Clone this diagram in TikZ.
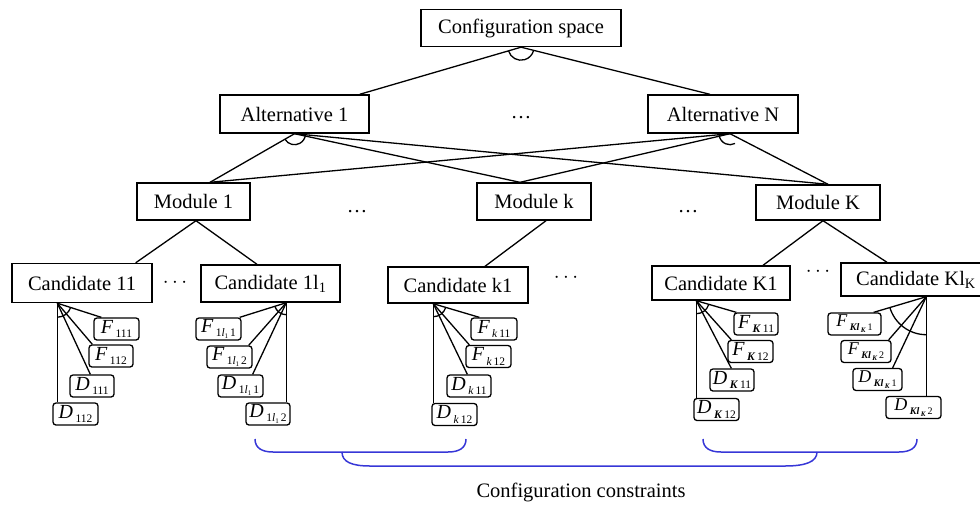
\documentclass[tikz,border=0pt]{standalone}
\usepackage{fontspec}
\setmainfont{Liberation Serif}
\usetikzlibrary{calc}
\definecolor{bblue}{RGB}{55,55,215}
\newcommand{\sblab}[2]{{\fontsize{20}{20}\selectfont\itshape #1}\hspace{2.5pt}\raisebox{-4.5pt}{\fontsize{11.5}{11.5}\selectfont #2}}
\newcommand{\sblabs}[2]{{\fontsize{18}{18}\selectfont\itshape #1}\hspace{2.5pt}\raisebox{-4pt}{\fontsize{10}{10}\selectfont #2}}
\newcommand{\tinysub}[1]{\raisebox{-2pt}{\fontsize{7}{7}\selectfont #1}}
\begin{document}
\begin{tikzpicture}[x=1pt,y=-1pt,
  box/.style={draw, line width=1.4pt, inner sep=0pt, font=\fontsize{20.5}{24}\selectfont, minimum height=37pt},
  sb/.style={draw, rounded corners=3pt, line width=1.3pt, inner sep=0pt, minimum height=22pt},
  ln/.style={line width=1.3pt},
  brk/.style={draw=bblue, line width=1.5pt},
  dts/.style={inner sep=0pt, font=\fontsize{20.5}{24}\selectfont}]
\useasboundingbox (0,0) rectangle (980,504);

% top levels
\node[box, minimum width=200pt] (cs) at (521,28) {Configuration space};
\node[box, minimum width=149pt, minimum height=38pt] (a1) at (294.5,114) {Alternative 1};
\node[box, minimum width=150pt, minimum height=38pt] (aN) at (723,114) {Alternative N};
\node[dts] (d0) at (521,118) {…};

\node[box, minimum width=113pt] (m1) at (193.5,201.5) {Module 1};
\node[box, minimum width=114pt] (mk) at (534,201.5) {Module k};
\node[box, minimum width=124pt, minimum height=35pt] (mK) at (818,202.5) {Module K};
\node[dts] (d1) at (357,212) {…};
\node[dts] (d2) at (688,212) {…};

% candidates
\node[box, minimum width=140pt, minimum height=39pt] (c11) at (82,283) {Candidate 11};
\node[box, minimum width=139pt] (c1l) at (270.5,283.5) {Candidate 1l\textsubscript{1}};
\node[box, minimum width=140pt, minimum height=36pt] (ck1) at (458,285) {Candidate k1};
\node[box, minimum width=138pt, minimum height=34pt] (cK1) at (721,283) {Candidate K1};
\node[box, minimum width=150pt, minimum height=33pt] (cKl) at (916,279.5) {Candidate Kl\textsubscript{K}};
\node[dts] (d3) at (175,283) {$\cdots$};
\node[dts] (d4) at (566,278) {$\cdots$};
\node[dts] (d5) at (818,272) {$\cdots$};

% upper connectors
\draw[ln] (cs.south) -- ([xshift=-10pt]a1.north east);
\draw[ln] (cs.south) -- ([xshift=-13pt]aN.north);
\draw[ln] ($(cs.south)+(-163.5:13pt)$) arc[start angle=-163.5, end angle=-14.2, radius=13pt];

\coordinate (a1p) at (a1.south);
\coordinate (aNp) at ([xshift=7pt]aN.south);
\coordinate (m1t) at ([xshift=16.5pt]m1.north);
\coordinate (mkt) at ([xshift=-14pt]mk.north);
\coordinate (mKt) at ([xshift=10pt]mK.north);
\draw[ln] (a1p) -- (m1t);
\draw[ln] (a1p) -- (mkt);
\draw[ln] (a1p) -- (mKt);
\draw[ln] (aNp) -- (m1t);
\draw[ln] (aNp) -- (mkt);
\draw[ln] (aNp) -- (mKt);
\draw[ln] ($(a1p)+(-150:11pt)$) arc[start angle=-150, end angle=-5, radius=11pt];
\draw[ln] ($(aNp)+(-174:11pt)$) arc[start angle=-174, end angle=-63, radius=11pt];

% module to candidate
\draw[ln] ([xshift=2.5pt]m1.south) -- ([xshift=-17pt]c11.north east);
\draw[ln] ([xshift=2.5pt]m1.south) -- ([xshift=-13.5pt]c1l.north);
\draw[ln] ([xshift=12pt]mk.south) -- ([xshift=27pt]ck1.north);
\draw[ln] ([xshift=5pt]mK.south) -- ([xshift=42pt]cK1.north);
\draw[ln] ([xshift=5pt]mK.south) -- ([xshift=-29pt]cKl.north);

% apexes
\coordinate (p11) at ([xshift=46pt]c11.south west);
\coordinate (p1l) at ([xshift=86pt]c1l.south west);
\coordinate (pk1) at ([xshift=46pt]ck1.south west);
\coordinate (pK1) at ([xshift=45pt]cK1.south west);
\coordinate (pKl) at ([xshift=86pt]cKl.south west);

% group c11
\node[sb, minimum width=45pt] (f111) at (116.5,329) {\sblab{F}{111}};
\node[sb, minimum width=44pt] (f112) at (111,356) {\sblab{F}{112}};
\node[sb, minimum width=44pt] (d111) at (92,386) {\sblab{D}{111}};
\node[sb, minimum width=45pt] (d112) at (75.5,414) {\sblab{D}{112}};
\draw[ln] (p11) -- ([xshift=8pt]f111.north west);
\draw[ln] (p11) -- ([xshift=4pt]f112.north west);
\draw[ln] (p11) -- ([xshift=21pt]d111.north west);
\draw[ln] (p11) -- (p11 |- d112.north);
\draw[ln] ($(p11)+(-90:14pt)$) arc[start angle=-90, end angle=-17.7, radius=14pt];

% group c1l
\node[sb, minimum width=45pt] (g1) at (218.5,329) {\sblab{F}{1\textit{l}\tinysub{1}\,1}};
\node[sb, minimum width=45pt] (g2) at (229.5,357) {\sblab{F}{1\textit{l}\tinysub{1}\,2}};
\node[sb, minimum width=45pt] (g3) at (240.5,386) {\sblab{D}{1\textit{l}\tinysub{1}\,1}};
\node[sb, minimum width=44pt] (g4) at (268,414) {\sblab{D}{1\textit{l}\tinysub{1}\,2}};
\draw[ln] (p1l) -- ([xshift=-2pt]g1.north east);
\draw[ln] (p1l) -- ([xshift=-4pt]g2.north east);
\draw[ln] (p1l) -- ([xshift=-11pt]g3.north east);
\draw[ln] (p1l) -- (p1l |- g4.north);
\draw[ln] ($(p1l)+(-163.4:12pt)$) arc[start angle=-163.4, end angle=-90, radius=12pt];

% group ck1
\node[sb, minimum width=46pt] (h1) at (494,329) {\sblab{F}{\textit{k}\,11}};
\node[sb, minimum width=45pt] (h2) at (488.5,356.5) {\sblab{F}{\textit{k}\,12}};
\node[sb, minimum width=44pt] (h3) at (469,386) {\sblab{D}{\textit{k}\,11}};
\node[sb, minimum width=45pt] (h4) at (454.5,414.5) {\sblab{D}{\textit{k}\,12}};
\draw[ln] (pk1) -- ([xshift=9pt]h1.north west);
\draw[ln] (pk1) -- ([xshift=4pt]h2.north west);
\draw[ln] (pk1) -- ([xshift=21pt]h3.north west);
\draw[ln] (pk1) -- (pk1 |- h4.north);
\draw[ln] ($(pk1)+(-90:13pt)$) arc[start angle=-90, end angle=-17, radius=13pt];

% group cK1
\node[sb, minimum width=44pt] (k1) at (756,324) {\sblab{F}{\textbf{\textit{K}}\,11}};
\node[sb, minimum width=45pt] (k2) at (750.5,351.5) {\sblab{F}{\textbf{\textit{K}}\,12}};
\node[sb, minimum width=44pt] (k3) at (732,380) {\sblab{D}{\textbf{\textit{K}}\,11}};
\node[sb, minimum width=45pt] (k4) at (716.5,409.5) {\sblab{D}{\textbf{\textit{K}}\,12}};
\draw[ln] (pK1) -- ([xshift=3pt]k1.north west);
\draw[ln] (pK1) -- ([xshift=4pt]k2.north west);
\draw[ln] (pK1) -- ([xshift=22pt]k3.north west);
\draw[ln] (pK1) -- (pK1 |- k4.north);
\draw[ln] ($(pK1)+(-90:13pt)$) arc[start angle=-90, end angle=-18, radius=13pt];

% group cKl
\node[sb, minimum width=53pt] (l1) at (854.5,324) {\sblabs{F}{\textbf{\textit{Kl}}\,\tinysub{\textbf{\textit{K}}}\,1}};
\node[sb, minimum width=50pt] (l2) at (866,351.5) {\sblabs{F}{\textbf{\textit{Kl}}\,\tinysub{\textbf{\textit{K}}}\,2}};
\node[sb, minimum width=49pt] (l3) at (877.5,379.5) {\sblabs{D}{\textbf{\textit{Kl}}\,\tinysub{\textbf{\textit{K}}}\,1}};
\node[sb, minimum width=55pt] (l4) at (913.5,407.5) {\sblabs{D}{\textbf{\textit{Kl}}\,\tinysub{\textbf{\textit{K}}}\,2}};
\draw[ln] (pKl) -- ([xshift=-8pt]l1.north east);
\draw[ln] (pKl) -- ([xshift=-3pt]l2.north east);
\draw[ln] (pKl) -- ([xshift=-10pt]l3.north east);
\draw[ln] (pKl) -- (pKl |- l4.north);
\draw[ln] ($(pKl)+(-163.5:38pt)$) arc[start angle=-163.5, end angle=-90, radius=38pt];

% configuration constraints brackets
\draw[brk] (255,439) .. controls (255,448) and (262,452) .. (273,452) -- (448,452) .. controls (459,452) and (466,448) .. (466,439);
\draw[brk] (342,452) .. controls (342,462) and (352,466) .. (370,466) -- (785,466) .. controls (805,466) and (817,462) .. (817,452);
\draw[brk] (703,439) .. controls (703,448) and (710,452) .. (721,452) -- (899,452) .. controls (910,452) and (917,448) .. (917,439);
\node[dts] (cc) at (581,492) {Configuration constraints};
\end{tikzpicture}
\end{document}
